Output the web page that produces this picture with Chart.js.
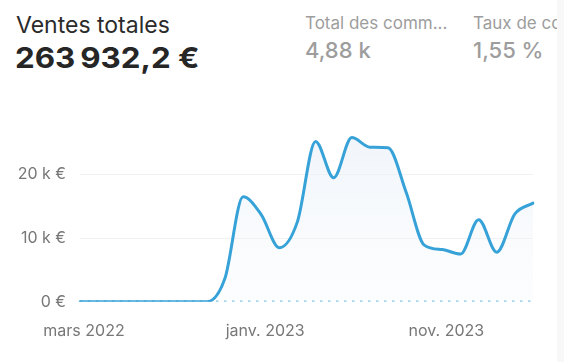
<!DOCTYPE html>
<html>
<head>
<meta charset="utf-8">
<script src="https://cdn.jsdelivr.net/npm/chart.js@4/dist/chart.umd.min.js"></script>
<style>
  html,body{margin:0;padding:0;background:#f8f8f9;}
  #card{position:absolute;left:0;top:0;width:557px;height:362px;background:#fff;overflow:hidden;font-family:Inter,"Noto Sans",sans-serif;}
  .t{position:absolute;white-space:nowrap;line-height:1;}
  #title{left:16px;top:14px;font-size:23px;color:#2b2b2b;}
  #total{left:15px;top:43px;font-size:29px;font-weight:700;color:#262626;letter-spacing:1.1px;transform:scaleX(1.08);transform-origin:0 0;}
  .lbl{font-size:17px;color:#9d9d9d;top:15px;}
  .val{font-size:22px;color:#9d9d9d;top:39px;font-weight:500;}
  #chartwrap{position:absolute;left:0;top:100px;width:557px;height:262px;}
</style>
</head>
<body>
<div id="card">
  <div class="t" id="title">Ventes totales</div>
  <div class="t" id="total">263&#8239;932,2 €</div>
  <div class="t lbl" style="left:305px">Total des comm...</div>
  <div class="t val" style="left:305px">4,88 k</div>
  <div class="t lbl" style="left:473px">Taux de conversion</div>
  <div class="t val" style="left:473px">1,55 %</div>
  <div id="chartwrap"><canvas id="c" width="557" height="262"></canvas></div>
</div>
<script>
const months = ["mars 2022","avr. 2022","mai 2022","juin 2022","juil. 2022","août 2022","sept. 2022","oct. 2022","nov. 2022","déc. 2022",
  "janv. 2023","févr. 2023","mars 2023","avr. 2023","mai 2023","juin 2023","juil. 2023","août 2023","sept. 2023","oct. 2023","nov. 2023","déc. 2023",
  "janv. 2024","févr. 2024","mars 2024","avr. 2024"];
const sales = [0,0,0,0,0,0,0,0,3700,16500,13700,8500,12600,25200,19500,25800,24300,24200,17200,8900,8200,7500,12900,7800,13800,15500];
const previousPeriod = [0,0,0,0,0,0,0,0,0,0,0,0,0,0,0,0,0,0,0,0,0,0,0,0,0,0];
const shownTicks = ["mars 2022","janv. 2023","nov. 2023"];
const yTicks = [0,10000,20000];
const yTickLabels = ["0 €","10 k €","20 k €"];

const ctx = document.getElementById('c').getContext('2d');
const grad = ctx.createLinearGradient(0,19,0,201);
grad.addColorStop(0,'rgba(232,240,248,0.7)');
grad.addColorStop(1,'rgba(246,248,251,0.3)');

new Chart(ctx,{
  type:'line',
  data:{
    labels:months,
    datasets:[
      {data:sales,borderColor:'#36a2d8',borderWidth:3,cubicInterpolationMode:'monotone',pointRadius:0,fill:'origin',backgroundColor:grad,order:1,borderCapStyle:'round',borderJoinStyle:'round'},
      {data:previousPeriod,borderColor:'#86c6e4',borderWidth:2.5,borderDash:[2.5,5.5],pointRadius:0,fill:false,order:2}
    ]
  },
  options:{
    responsive:false,animation:false,
    layout:{padding:{top:19,right:24,bottom:1,left:0}},
    plugins:{legend:{display:false},tooltip:{enabled:false},filler:{drawTime:'beforeDatasetsDraw'}},
    scales:{
      x:{
        offset:false,
        grid:{display:false,drawTicks:false},
        border:{display:false},
        ticks:{autoSkip:false,maxRotation:0,padding:20,labelOffset:4,color:'#777777',font:{family:'Inter',size:16},
          callback:function(v,i){const l=months[i];return shownTicks.includes(l)?l:null;}}
      },
      y:{
        min:0,max:28000,
        afterBuildTicks:function(s){s.ticks=yTicks.map(v=>({value:v}));},
        afterFit:function(s){s.width=80;},
        grid:{color:function(c){return c.tick&&c.tick.value===0?'rgba(0,0,0,0)':'#eff1f3';},drawTicks:false,lineWidth:1},
        border:{display:false},
        ticks:{padding:14,color:'#777777',font:{family:'Inter',size:16},
          callback:function(v){const i=yTicks.indexOf(v);return i>=0?yTickLabels[i]:'';}}
      }
    }
  }
});
</script>
</body>
</html>
